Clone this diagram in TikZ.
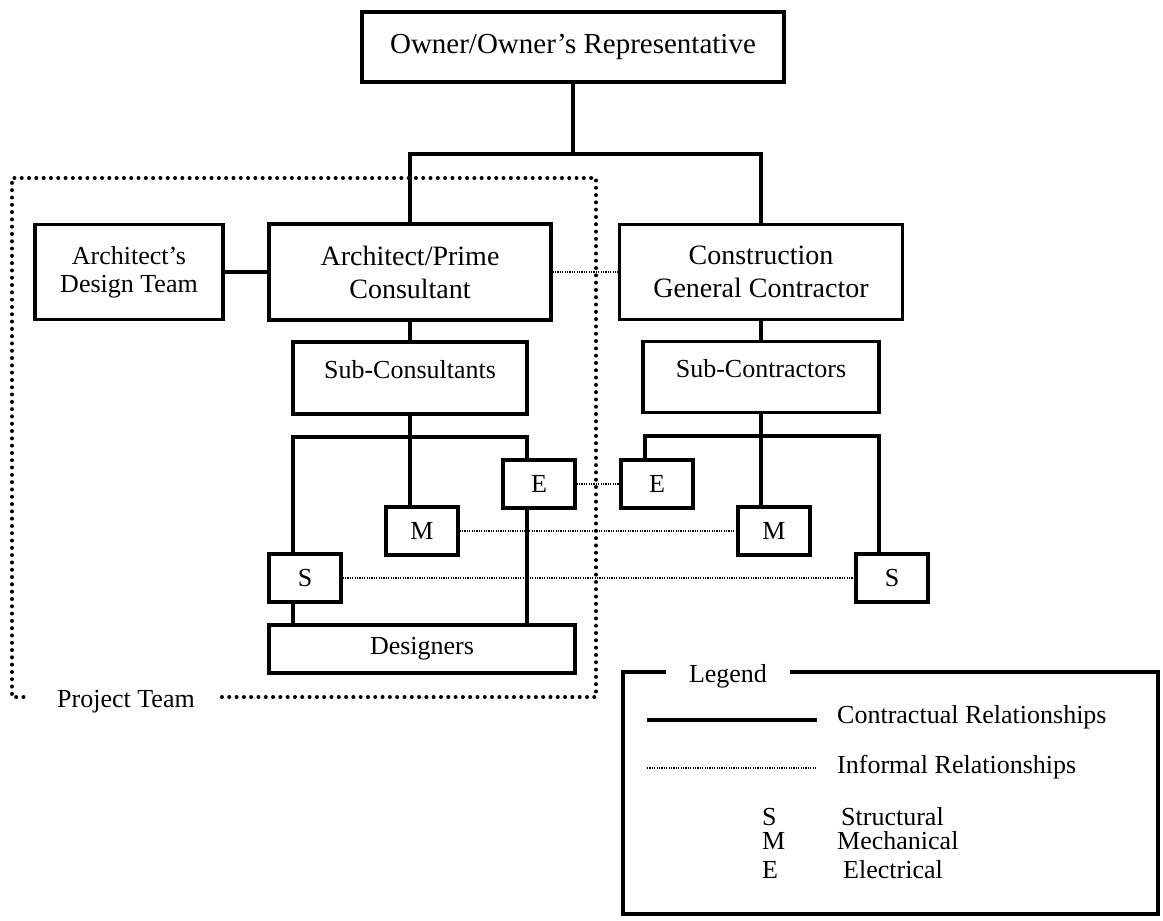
\documentclass[tikz,border=0pt]{standalone}
\usepackage{fontspec}
\setmainfont{Liberation Serif}
\usetikzlibrary{positioning}
\tikzset{
	box/.style={draw,rectangle,align=center,line width=3.2pt,inner sep=0pt},
	bigbox/.style={box,font=\fontsize{28}{33}\selectfont},
	letter/.style={box,minimum width=72pt,minimum height=48pt},
	raised/.style={text depth=18pt},
	contract/.style={line width=3.2pt},
	informal/.style={line width=1.2pt,dash pattern=on 1.2pt off 1.2pt},
	team/.style={line width=4pt,line cap=round,dash pattern=on 0pt off 7.3pt},
	frame/.style={line width=3.6pt},
	keytext/.style={anchor=base west,inner sep=0pt}
}
\begin{document}
\begin{tikzpicture}[x=1pt,y=-1pt,font=\fontsize{26}{28}\selectfont]
			\useasboundingbox (0,0) rectangle (1163,921);
			\node[box,font=\fontsize{29}{33}\selectfont,minimum width=422pt,minimum height=70pt] (own) at (573,47) {Owner/Owner's Representative};
			\node[box,minimum width=188pt,minimum height=95pt] (adt) at (129,272) {Architect's\\Design Team};
			\node[bigbox,minimum width=282pt,minimum height=96pt] (arch) at (410,272) {Architect/Prime\\Consultant};
			\node[bigbox,minimum width=283pt,minimum height=95pt] (gc) at (761,272) {Construction\\General Contractor};
			\node[box,raised,minimum width=234pt,minimum height=72pt] (subc) at (410,378) {Sub-Consultants};
			\node[box,raised,minimum width=236pt,minimum height=71pt] (subk) at (761,377) {Sub-Contractors};
			\node[letter] (e1) at (539,484) {E};
			\node[letter] (m1) at (422,531) {M};
			\node[letter] (s1) at (305,578) {S};
			\node[box,minimum width=306pt,minimum height=48pt] (des) at (422,649) {Designers};
			\node[letter] (e2) at (657,484) {E};
			\node[letter] (m2) at (774,531) {M};
			\node[letter] (s2) at (892,578) {S};
			\coordinate (top) at (573,154);
			\coordinate (cl) at (293,437);
			\coordinate (cr) at (527,437);
			\coordinate (kl) at (645,436);
			\coordinate (kr) at (879,436);
			
			\draw[contract] (own.south) -- (top);
			\draw[contract] (arch.north) |- (top) -| (gc.north);
			\draw[contract] (adt) -- (arch);
			\draw[informal] (arch) -- (gc);
			\draw[contract] (arch) -- (subc);
			\draw[contract] (gc) -- (subk);
			\draw[contract] (subc.south) -- (subc.south |- m1.north);
			\draw[contract] (s1.north -| cl) -- (cl) -- (cr) -- (cr |- e1.north);
			\draw[contract] (cl |- s1.south) -- (cl |- des.north);
			\draw[contract] (cr |- e1.south) -- (cr |- des.north);
			\draw[contract] (subk.south) -- (subk.south |- m2.north);
			\draw[contract] (kl |- e2.north) -- (kl) -- (kr) -- (kr |- s2.north);
			\draw[informal] (e1) -- (e2);
			\draw[informal] (m1) -- (m2);
			\draw[informal] (s1) -- (s2);
			
			\node[anchor=base,inner xsep=27pt,inner ysep=0pt] (pt) at (126,707) {Project Team};
			\draw[team] (pt.east |- 0,697) -- (596,697) -- (596,178) -- (12,178) -- (12,697) -- (pt.west |- 0,697);
			
			\node[anchor=base,inner xsep=23pt,inner ysep=0pt] (leg) at (728,682) {Legend};
			\coordinate (ltl) at (623,672);
			\coordinate (ltr) at (1158,672);
			\coordinate (lbr) at (1158,914);
			\coordinate (lbl) at (623,914);
			\draw[frame] (leg.east |- ltr) -- (ltr) -- (lbr) -- (lbl) -- (ltl) -- (leg.west |- ltl);
			\node[keytext,inner xsep=20pt] (con) at (817,723) {Contractual Relationships};
			\node[keytext,inner xsep=20pt] (inf) at (817,773) {Informal Relationships};
			\coordinate (cstart) at (647,720);
			\coordinate (istart) at (647,768);
			\draw[contract] (cstart) -- (cstart -| con.west);
			\draw[informal] (istart) -- (istart -| inf.west);
			\node[keytext] (ks) at (762,825) {S};
			\node[keytext] (km) at (762,849) {M};
			\node[keytext] (ke) at (762,878) {E};
			\node[keytext] (ts) at (841,825) {Structural};
			\node[keytext] (tm) at (837,849) {Mechanical};
			\node[keytext] (te) at (843,878) {Electrical};
		\end{tikzpicture}
\end{document}
